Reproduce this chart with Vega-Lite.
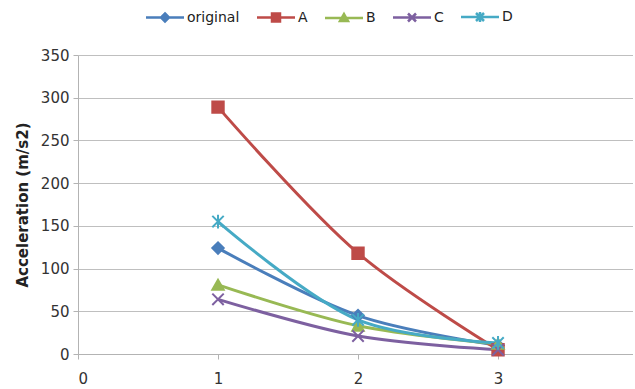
{
  "$schema": "https://vega.github.io/schema/vega-lite/v6.json",
  "width": 555,
  "height": 299,
  "padding": {"left": 15, "top": 10, "right": 0, "bottom": 0},
  "background": "white",
  "config": {
    "font": "DejaVu Sans",
    "view": {"stroke": null},
    "axis": {"labelFont": "DejaVu Sans", "labelFontSize": 15, "labelColor": "#333333", "titleFont": "DejaVu Sans", "titleColor": "#222222"}
  },
  "data": {
    "values": [
      {"series": "original", "x": 1, "y": 124},
      {"series": "original", "x": 2, "y": 45},
      {"series": "original", "x": 3, "y": 10},
      {"series": "A", "x": 1, "y": 289},
      {"series": "A", "x": 2, "y": 118},
      {"series": "A", "x": 3, "y": 5},
      {"series": "B", "x": 1, "y": 81},
      {"series": "B", "x": 2, "y": 33},
      {"series": "B", "x": 3, "y": 12},
      {"series": "C", "x": 1, "y": 64},
      {"series": "C", "x": 2, "y": 21},
      {"series": "C", "x": 3, "y": 5},
      {"series": "D", "x": 1, "y": 155},
      {"series": "D", "x": 2, "y": 40},
      {"series": "D", "x": 3, "y": 13}
    ]
  },
  "encoding": {
    "x": {
      "field": "x", "type": "quantitative",
      "scale": {"domain": [0, 3.964], "nice": false, "zero": false},
      "axis": {"values": [0, 1, 2, 3], "grid": false, "title": null, "domainColor": "#b3b3b3", "tickColor": "#b3b3b3", "tickSize": 5, "labelPadding": 12, "format": "d"}
    },
    "y": {
      "field": "y", "type": "quantitative",
      "scale": {"domain": [0, 350], "nice": false},
      "axis": {"values": [0, 50, 100, 150, 200, 250, 300, 350], "title": "Acceleration (m/s2)", "titleFontSize": 15, "titleFontWeight": "bold", "titlePadding": 10, "gridColor": "#bfbfbf", "domainColor": "#b3b3b3", "tickColor": "#b3b3b3", "tickSize": 5, "labelPadding": 4}
    },
    "color": {
      "field": "series", "type": "nominal",
      "scale": {"domain": ["original", "A", "B", "C", "D"], "range": ["#4A7EBB", "#BE4B48", "#98B954", "#7D60A0", "#46AAC5"]},
      "legend": {
        "orient": "none", "legendX": 80, "legendY": -45, "direction": "horizontal", "title": null,
        "labelFont": "DejaVu Sans", "labelFontSize": 14, "labelColor": "#222222", "symbolSize": 100, "symbolStrokeWidth": 2.5,
        "columnPadding": 12, "labelOffset": 15,
        "encode": {
          "symbols": {
            "update": {
              "shape": {"signal": "datum.value === 'original' ? 'M-3.8,0H3.8M0,-0.8L0.8,0L0,0.8L-0.8,0Z' : datum.value === 'A' ? 'M-3.8,0H3.8M-0.8,-0.8H0.8V0.8H-0.8Z' : datum.value === 'B' ? 'M-3.8,0H3.8M0,-0.8L0.8,0.6L-0.8,0.6Z' : datum.value === 'C' ? 'M-3.8,0H3.8M-0.8,-0.8L0.8,0.8M-0.8,0.8L0.8,-0.8' : 'M-3.8,0H3.8M-0.8,-0.8L0.8,0.8M-0.8,0.8L0.8,-0.8M0,-1L0,1'"},
              "fill": {"signal": "scale('color', datum.value)"},
              "stroke": {"signal": "scale('color', datum.value)"},
              "strokeWidth": {"value": 2.5},
              "opacity": {"value": 1}
            }
          }
        }
      }
    }
  },
  "layer": [
    {
      "mark": {"type": "line", "interpolate": "catmull-rom", "strokeWidth": 3},
      "encoding": {}
    },
    {
      "mark": {
        "type": "point", "filled": true, "size": 130, "strokeWidth": 2, "opacity": 1,
        "shape": {"expr": "datum.series === 'original' ? 'diamond' : datum.series === 'A' ? 'square' : datum.series === 'B' ? 'triangle-up' : datum.series === 'C' ? 'M-1,-1L1,1M-1,1L1,-1' : 'M-1,-1L1,1M-1,1L1,-1M0,-1.2L0,1.2'"},
        "stroke": {"expr": "scale('color', datum.series)"}
      },
      "encoding": {}
    }
  ]
}
